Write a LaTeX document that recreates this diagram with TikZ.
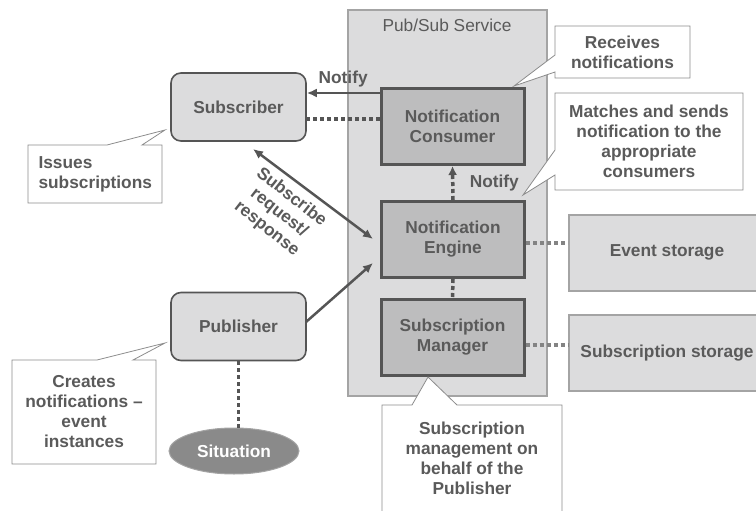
\documentclass[tikz,border=0pt]{standalone}
\usepackage{fontspec}
\setmainfont{Liberation Sans}
\usetikzlibrary{arrows.meta, shapes.geometric}
\definecolor{txtGray}{HTML}{5A5A5A}
\definecolor{lineGray}{HTML}{555555}
\definecolor{paleFill}{HTML}{DCDCDD}
\definecolor{darkFill}{HTML}{BDBDBE}
\definecolor{edgeGray}{HTML}{A4A4A4}
\definecolor{sitFill}{HTML}{8A8A8A}
\tikzset{
  boxText/.style={font=\fontsize{17.3}{20}\selectfont\bfseries, text=txtGray, align=center},
  roundBox/.style={boxText, draw=lineGray, line width=1.6pt, fill=paleFill, rounded corners=10pt,
    minimum width=135pt, minimum height=68pt},
  compBox/.style={boxText, draw=lineGray, line width=3pt, fill=darkFill,
    minimum width=143pt, minimum height=76pt},
  storeBox/.style={boxText, draw=edgeGray, line width=2pt, fill=paleFill,
    minimum width=196pt, minimum height=76pt},
  % bulles de commentaire
  calloutShape/.style={draw=gray!90, line width=0.8pt, fill=white},
  dotLink/.style={lineGray, line width=3.5pt, dash pattern=on 4pt off 3pt},
  solidArrow/.style={-{Latex[length=10pt, width=9pt]}, lineGray, line width=2.5pt}
}

\begin{document}
\begin{tikzpicture}[x=1pt, y=-1pt]
  \useasboundingbox (0,0) rectangle (756,511);

  %% --- Service Pub/Sub ---
  \draw[draw=edgeGray, line width=1.2pt, fill=paleFill] (348,10) rectangle (547,396);
  \node[font=\fontsize{17.3}{20}\selectfont, text=txtGray] (svcTitle) at (447,25) {Pub/Sub Service};

  \node[compBox] (consumer) at (452.5,126.5) {Notification\\Consumer};
  \node[compBox] (engine)   at (453,239.5)   {Notification\\Engine};
  \node[compBox] (manager)  at (452.5,337.5) {Subscription\\Manager};

  %% --- Clientes ---
  \node[roundBox] (subscriber) at (238.5,107) {Subscriber};
  \node[roundBox] (publisher)  at (238.5,326.5) {Publisher};
  \node[ellipse, fill=sitFill, draw=edgeGray, line width=1pt, minimum width=130pt, minimum height=46pt,
    font=\fontsize{17.3}{20}\selectfont\bfseries, text=white] (situation) at (234,451) {Situation};

  %% --- Armazenamento ---
  \node[storeBox] (eventStore) at (667,252.5) {Event storage};
  \node[storeBox] (subStore)   at (667,353)   {Subscription storage};

  %% --- Ligações ---
  \coordinate (notifyRow) at (0,93);
  \coordinate (dotRow)    at (0,119);
  \coordinate (eventRow)  at (0,243);
  \coordinate (storeRow)  at (0,345);
  \draw[solidArrow] (consumer.west |- notifyRow) -- (subscriber.east |- notifyRow)
    node[boxText, midway, above=1pt] (notifyTop) {Notify};
  \draw[dotLink] (consumer.west |- dotRow) -- (subscriber.east |- dotRow);
  \draw[dotLink, -{Latex[length=9pt, width=9pt]}] (engine.north) -- (consumer.south)
    node[boxText, midway, right=12pt] (notifyMid) {Notify};
  \draw[dotLink] (engine.south) -- (manager.north);
  \draw[dotLink, edgeGray!80!black] (engine.east |- eventRow) -- (eventStore.west |- eventRow);
  \draw[dotLink, edgeGray!80!black] (manager.east |- storeRow) -- (subStore.west |- storeRow);
  \draw[dotLink] (publisher.south) -- (situation.north -| publisher.south);

  \coordinate (subTip) at (253,149);
  \coordinate (engTipA) at (373,239);
  \coordinate (engTipB) at (373,263);
  \coordinate (pubOut) at (306,322);
  \draw[solidArrow, {Latex[length=10pt, width=9pt]}-{Latex[length=10pt, width=9pt]}] (subTip) -- (engTipA);
  \draw[solidArrow] (pubOut) -- (engTipB);
  \node[boxText, rotate=-38] (subscribeLbl) at (279,213)
    {Subscribe\\request/\\response};

  %% --- Bulles ---
  \draw[calloutShape] (28,145) -- (107,145) -- (165,130) -- (142,145) -- (162,145)
    -- (162,203) -- (28,203) -- cycle;
  \node[boxText, align=left, anchor=west] (noteIssues) at (35,174.5) {Issues\\subscriptions};

  \draw[calloutShape] (555,26) -- (690,26) -- (690,78) -- (555,78) -- (555,72) -- (514,86)
    -- (555,55) -- cycle;
  \node[boxText] (noteReceives) at (622.5,52) {Receives\\notifications};

  \draw[calloutShape] (555,93) -- (743,93) -- (743,190) -- (555,190) -- (555,175) -- (523,195)
    -- (555,150) -- cycle;
  \node[boxText] (noteMatches) at (649,141.5) {Matches and sends\\notification to the\\appropriate\\consumers};

  \draw[calloutShape] (12,360) -- (97,360) -- (165,343) -- (133,360) -- (156,360)
    -- (156,464) -- (12,464) -- cycle;
  \node[boxText] (noteCreates) at (84,412) {Creates\\notifications --\\event\\instances};

  \draw[calloutShape] (382,405) -- (412,405) -- (428,377) -- (457,405) -- (562,405)
    -- (562,520) -- (382,520) -- cycle;
  \node[boxText] (noteManage) at (472,458) {Subscription\\management on\\behalf of the\\Publisher};
\end{tikzpicture}
\end{document}
